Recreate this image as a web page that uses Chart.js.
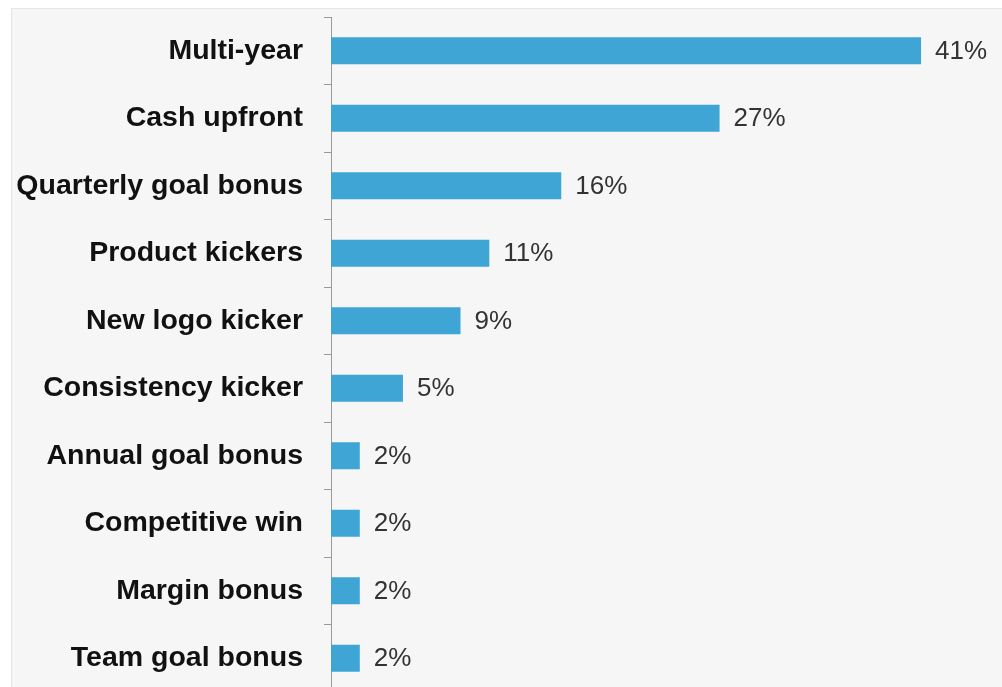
<!DOCTYPE html>
<html>
<head>
<meta charset="utf-8">
<script src="https://cdn.jsdelivr.net/npm/chart.js@4"></script>
<style>
  html, body { margin: 0; padding: 0; background: #fff; overflow: hidden; }
  #wrap { position: relative; width: 1002px; height: 687px; overflow: hidden; }
  #panel { position: absolute; left: 11px; top: 8px; right: 0; bottom: 0;
           background: #f5f6f5; border-top: 1px solid #e6e6de; border-left: 1px solid #e6e6de; }
  #box { position: absolute; left: 0; top: 0; width: 1002px; height: 692px; }
</style>
</head>
<body>
<div id="wrap">
  <div id="panel"></div>
  <div id="box"><canvas id="myChart"></canvas></div>
</div>
<script>
const categories = ['Multi-year', 'Cash upfront', 'Quarterly goal bonus', 'Product kickers',
  'New logo kicker', 'Consistency kicker', 'Annual goal bonus', 'Competitive win',
  'Margin bonus', 'Team goal bonus'];
const shares = [41, 27, 16, 11, 9, 5, 2, 2, 2, 2];

// draws "41%" etc. just past the end of each bar
const valueLabels = {
  id: 'valueLabels',
  afterDatasetsDraw(chart) {
    const ctx = chart.ctx;
    const meta = chart.getDatasetMeta(0);
    ctx.save();
    ctx.font = '26px "Liberation Sans", Arial, sans-serif';
    ctx.fillStyle = '#333';
    ctx.textAlign = 'left';
    ctx.textBaseline = 'middle';
    meta.data.forEach((bar, i) => {
      ctx.fillText(shares[i] + '%', bar.x + 14, bar.y + 1);
    });
    ctx.restore();
  }
};

new Chart(document.getElementById('myChart'), {
  type: 'bar',
  data: {
    labels: categories,
    datasets: [{
      data: shares,
      backgroundColor: '#3ea5d5',
      borderWidth: 0,
      barPercentage: 0.4,
      categoryPercentage: 1
    }]
  },
  options: {
    indexAxis: 'y',
    responsive: true,
    maintainAspectRatio: false,
    animation: false,
    layout: { padding: { top: 17, right: 9, bottom: 0, left: 0 } },
    plugins: {
      legend: { display: false },
      tooltip: { enabled: false }
    },
    scales: {
      x: {
        display: false,
        min: 0,
        max: 46
      },
      y: {
        afterFit(scale) {
          scale.width = 331;
          scale.paddingTop = 0;
          scale.paddingBottom = 0;
        },
        grid: {
          offset: true,
          drawOnChartArea: false,
          drawTicks: true,
          tickLength: 7,
          color: '#9a9a9a'
        },
        border: { color: '#9a9a9a', width: 1 },
        ticks: {
          padding: 21,
          color: '#111',
          font: { family: '"Liberation Sans", Arial, sans-serif', size: 28.5, weight: 'bold' }
        }
      }
    }
  },
  plugins: [valueLabels]
});
</script>
</body>
</html>
